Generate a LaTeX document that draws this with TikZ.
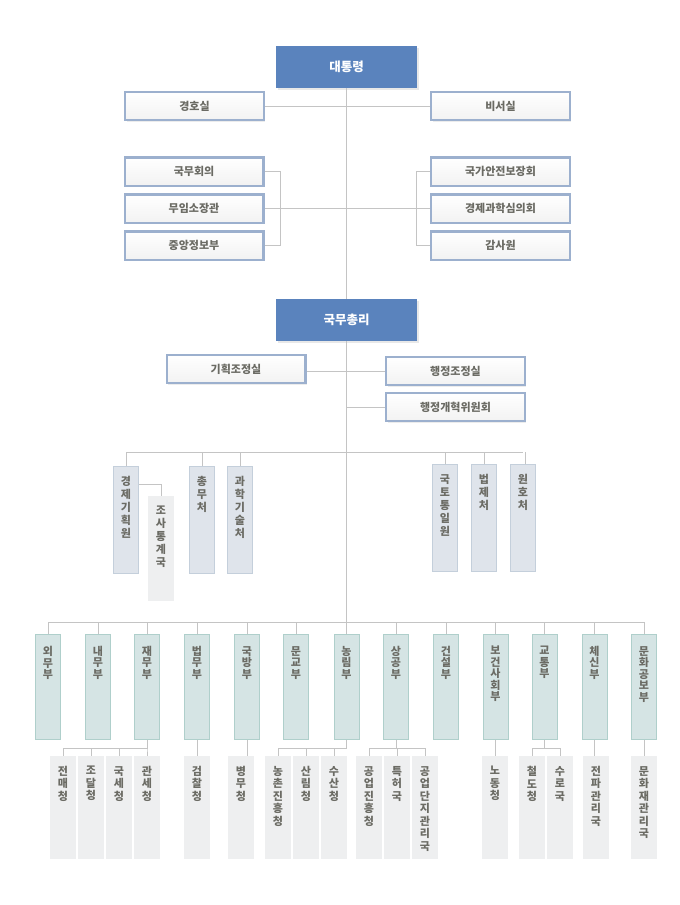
\documentclass[tikz,border=0pt]{standalone}
\usepackage{fontspec}
\setmainfont{Noto Sans CJK KR}
\usetikzlibrary{shadows}
\definecolor{headblue}{HTML}{5A83BD}
\definecolor{frameblue}{HTML}{9CB0CE}
\definecolor{cheofill}{HTML}{DFE4EB}
\definecolor{cheodraw}{HTML}{C4CFDB}
\definecolor{bufill}{HTML}{D5E4E4}
\definecolor{budraw}{HTML}{AFCFCB}
\definecolor{cheongfill}{HTML}{EEEFF0}
\definecolor{linegray}{HTML}{C4C4C4}
\definecolor{txtgray}{HTML}{6B6B64}
\tikzset{
  line/.style={draw=linegray, line width=1pt},
  headbox/.style={fill=headblue, minimum width=141pt, minimum height=42pt, inner sep=0pt,
    text=white, font=\bfseries\fontsize{12.5}{14}\selectfont,
    drop shadow={opacity=0.18, shadow xshift=1.5pt, shadow yshift=-1.5pt}},
  officebox/.style={draw=frameblue, line width=2.3pt, top color=white, bottom color=black!5,
    minimum width=138.7pt, minimum height=28.3pt, inner sep=0pt, text=txtgray,
    font=\bfseries\fontsize{11}{13}\selectfont,
    drop shadow={opacity=0.15, shadow xshift=1.5pt, shadow yshift=-1.5pt}},
  cheobox/.style={fill=cheofill, draw=cheodraw, line width=1pt, anchor=north,
    minimum width=25pt, minimum height=107pt, inner sep=0pt},
  bubox/.style={fill=bufill, draw=budraw, line width=1pt, anchor=north,
    minimum width=25pt, minimum height=105pt, inner sep=0pt},
  cheongbox/.style={fill=cheongfill, anchor=north, minimum width=26pt,
    minimum height=103pt, inner sep=0pt},
  vlabel/.style={inner sep=0pt, anchor=north, align=center, text=txtgray,
    font=\bfseries\fontsize{11}{#1}\selectfont},
  vlabel/.default=12.5
}
\begin{document}
\begin{tikzpicture}[x=1pt,y=-1pt]
\useasboundingbox (0,0) rectangle (680,905);
% president and offices
\node[headbox] (pres) at (346.5,67) {대통령};
\node[officebox] (guard) at (194.5,106) {경호실};
\node[officebox] (secr) at (500.5,106) {비서실};
\node[officebox] (cabinet) at (194,171.5) {국무회의};
\node[officebox] (minister) at (194,208.5) {무임소장관};
\node[officebox] (kcia) at (194,245.5) {중앙정보부};
\node[officebox] (nsc) at (500.5,171.5) {국가안전보장회};
\node[officebox] (econ) at (500.5,208.5) {경제과학심의회};
\node[officebox] (audit) at (500.5,245.5) {감사원};
% prime minister
\node[headbox] (pm) at (346.5,320) {국무총리};
\node[officebox] (plan) at (236,369) {기획조정실};
\node[officebox] (coord) at (455.5,371) {행정조정실};
\node[officebox] (reform) at (455.5,407) {행정개혁위원회};
\coordinate (cheline) at (346.5,452);
\coordinate (buline) at (346.5,622);

\draw[line] (pres.south) -- (pm.north);
\draw[line] (guard.east) -- (secr.west);
\draw[line] (cabinet.east) -- ++(16,0) |- (kcia.east);
\draw[line] (minister.east) -- (econ.west);
\draw[line] (nsc.west) -- ++(-14,0) |- (audit.west);
\draw[line] (plan.east |- coord.west) -- (coord.west);
\draw[line] (pm.south |- reform.west) -- (reform.west);
\draw[line] (pm.south) -- (buline);

% cheo row
\foreach \n/\x/\y/\t in {epb/126/466/{경\\제\\기\\획\\원}, govadm/202/466/{총\\무\\처},
    scitech/240/466/{과\\학\\기\\술\\처}, unif/445/464/{국\\토\\통\\일\\원},
    legis/484/464/{법\\제\\처}, vet/523/464/{원\\호\\처}}
  \node[cheobox, label={[vlabel=13, yshift=-10pt]north:\t}] (\n) at (\x,\y) {};
\node[cheongbox, minimum height=105pt, label={[vlabel=13, yshift=-10pt]north:조\\사\\통\\계\\국}] (stat) at (161,496) {};
\draw[line] (epb.north |- cheline) -- (vet.north |- cheline);
\foreach \n in {epb,govadm,scitech,unif,legis}
  \draw[line] (\n.north) -- (\n.north |- cheline);
\draw[line] ([xshift=2pt]vet.north) -- ([xshift=2pt]vet.north |- cheline);
\draw[line] ([yshift=-18pt]epb.north east) -| (stat.north);

% bu row
\foreach \n/\x/\t in {foreign/48/{외\\무\\부}, home/98/{내\\무\\부}, finance/147/{재\\무\\부},
    justice/197/{법\\무\\부}, defense/247/{국\\방\\부}, educ/296/{문\\교\\부},
    agri/346.5/{농\\림\\부}, commerce/396/{상\\공\\부}, constr/446/{건\\설\\부},
    health/495.5/{보\\건\\사\\회\\부}, transp/544.5/{교\\통\\부}, comm/594.5/{체\\신\\부},
    culture/644/{문\\화\\공\\보\\부}}
  \node[bubox, label={[vlabel=11.5, yshift=-12pt]north:\t}] (\n) at (\x,634) {};
\draw[line] (foreign.north |- buline) -- (culture.north |- buline);
\foreach \n in {foreign,home,finance,justice,defense,educ,agri,commerce,constr,health,transp,comm,culture}
  \draw[line] (\n.north) -- (\n.north |- buline);

% cheong row
\foreach \n/\x/\t in {monopoly/63/{전\\매\\청}, procure/91/{조\\달\\청}, tax/119/{국\\세\\청},
    customs/147/{관\\세\\청}, prosec/197/{검\\찰\\청}, mma/241/{병\\무\\청},
    rda/278/{농\\촌\\진\\흥\\청}, forest/306/{산\\림\\청}, fish/334/{수\\산\\청},
    indus/369/{공\\업\\진\\흥\\청}, patent/397/{특\\허\\국}, estate/425/{공\\업\\단\\지\\관\\리\\국},
    labor/495/{노\\동\\청}, rail/532/{철\\도\\청}, hydro/560/{수\\로\\국},
    radio/596/{전\\파\\관\\리\\국}, heritage/644/{문\\화\\재\\관\\리\\국}}
  \node[cheongbox, label={[vlabel=12.5, yshift=-10pt]north:\t}] (\n) at (\x,756) {};
\foreach \p/\c in {finance/monopoly, finance/procure, finance/tax, finance/customs,
    agri/rda, agri/forest, agri/fish, commerce/indus, commerce/patent, commerce/estate,
    transp/rail, transp/hydro}
  \draw[line] (\p.south) |- ([yshift=8pt]\c.north) -- (\c.north);
\foreach \p/\c in {justice/prosec, defense/mma, health/labor, comm/radio, culture/heritage}
  \draw[line] (\p.south) -- (\p.south |- \c.north);
\end{tikzpicture}
\end{document}
